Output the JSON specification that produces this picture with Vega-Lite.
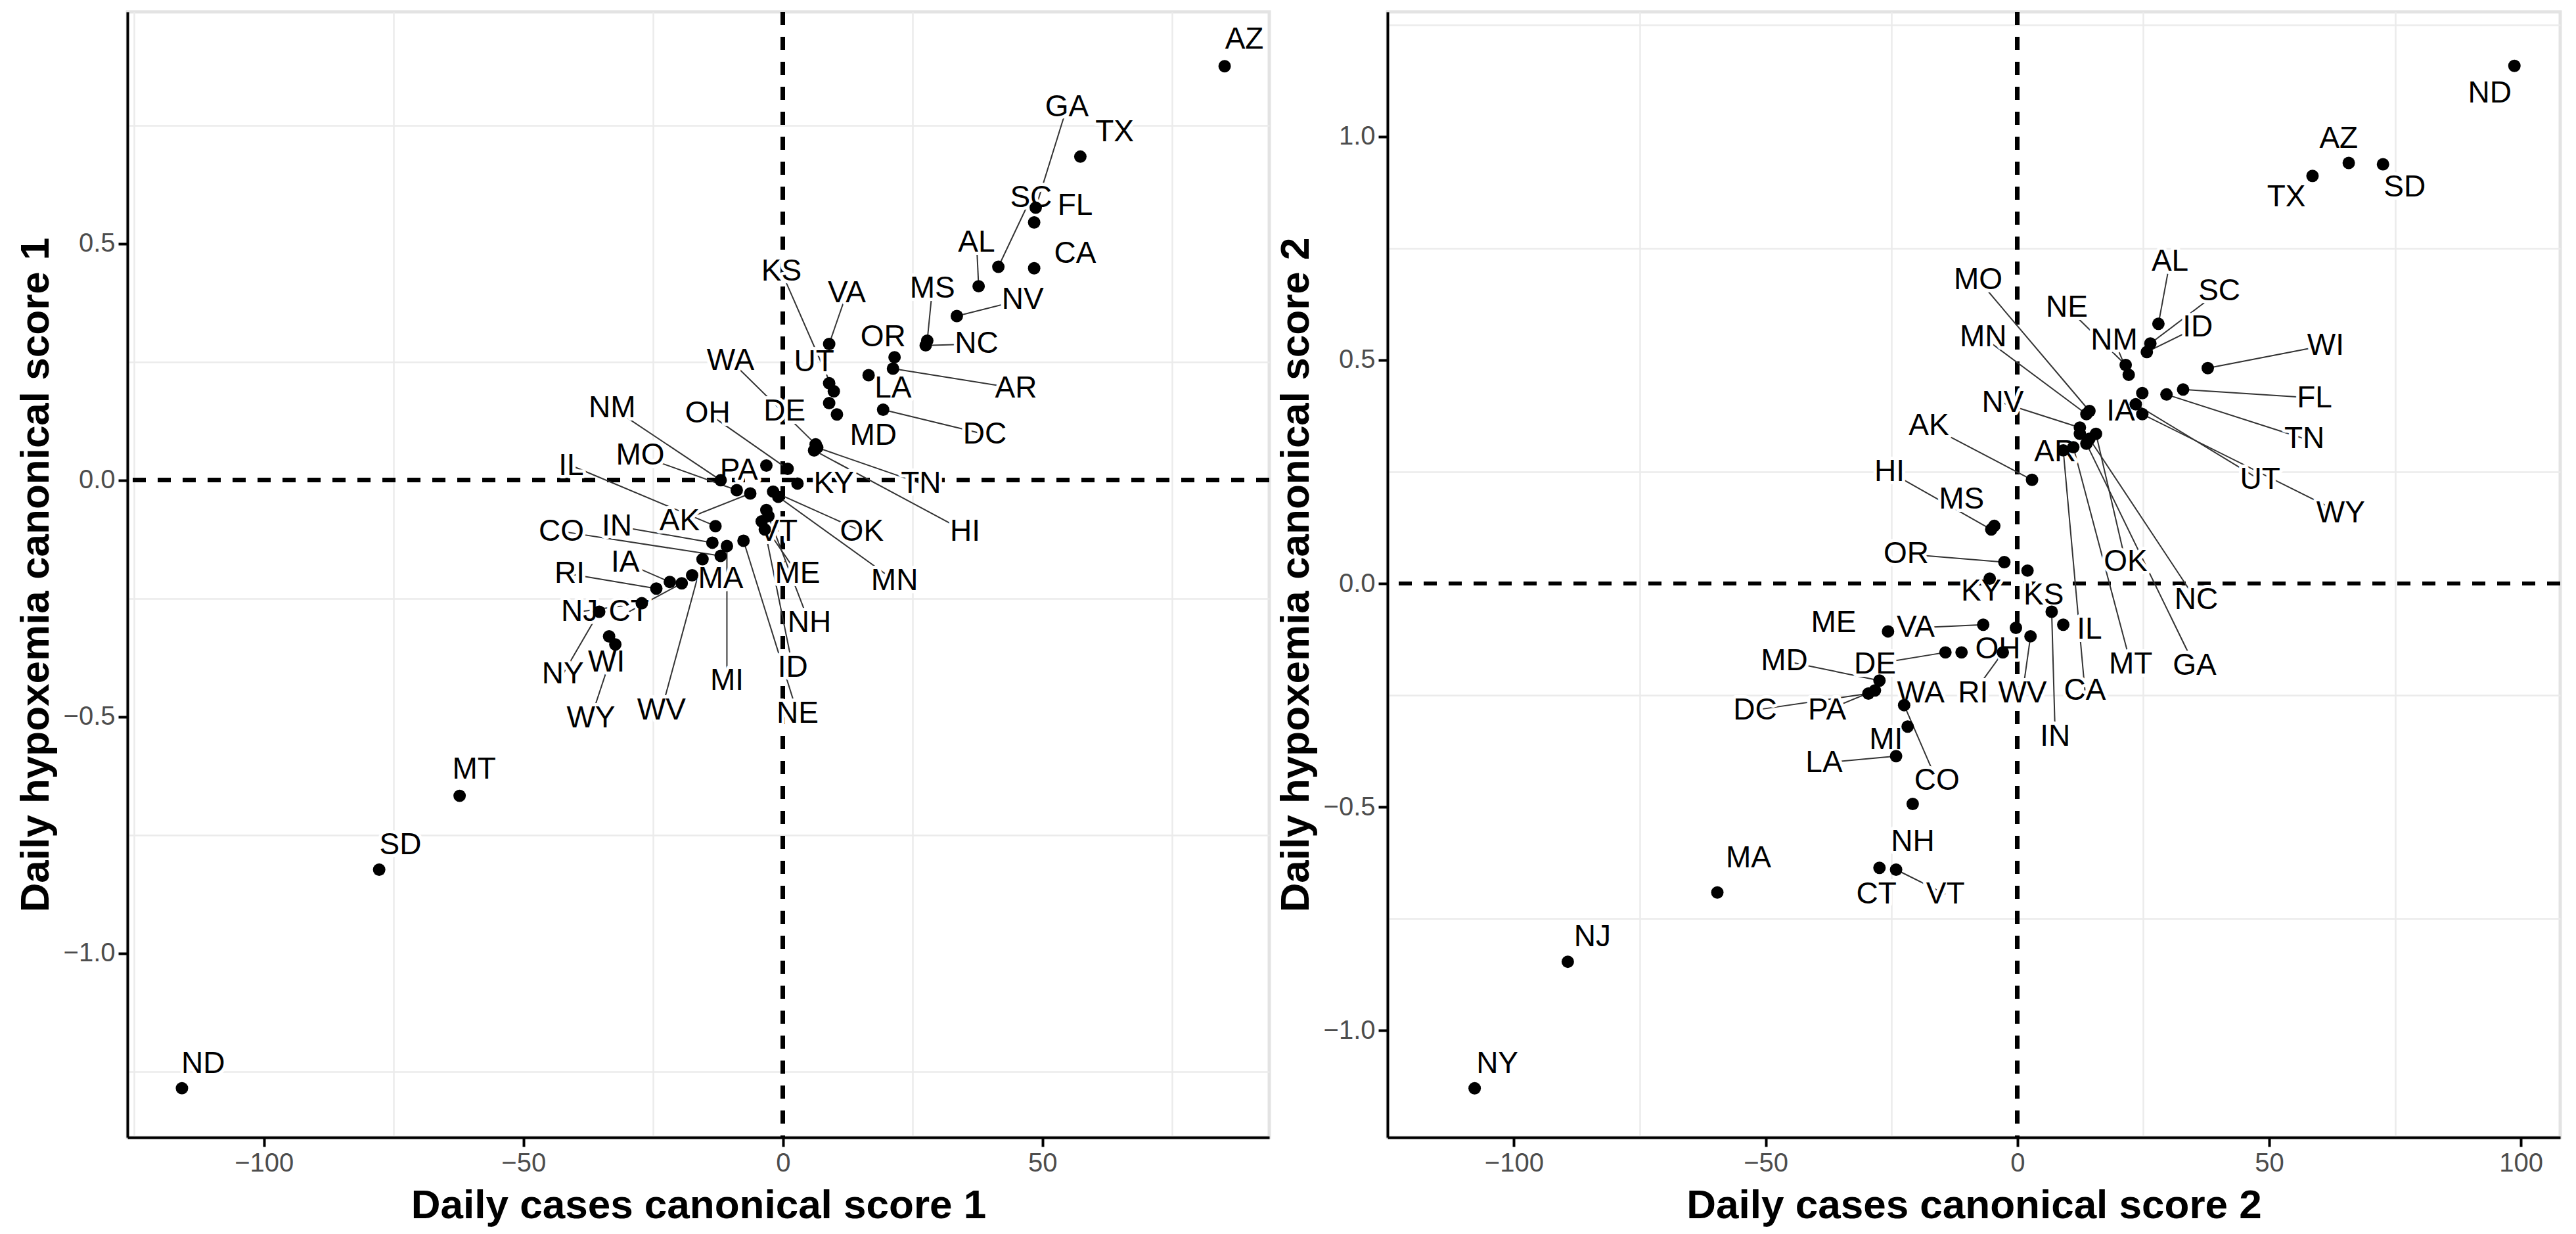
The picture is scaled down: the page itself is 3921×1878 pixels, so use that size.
{
"$schema": "https://vega.github.io/schema/vega-lite/v6.json",
"padding": {"left": 20, "top": 12, "right": 20, "bottom": 10},
"background": "white",
"datasets": {
"p1": [
{"s":"AZ","x":85.1,"y":0.875,"lx":88.9,"ly":0.931,"seg":0},
{"s":"TX","x":57.3,"y":0.684,"lx":63.9,"ly":0.736,"seg":0},
{"s":"GA","x":48.7,"y":0.576,"lx":54.7,"ly":0.788,"seg":1},
{"s":"FL","x":48.4,"y":0.545,"lx":56.3,"ly":0.58,"seg":0},
{"s":"CA","x":48.4,"y":0.448,"lx":56.3,"ly":0.479,"seg":0},
{"s":"SC","x":41.5,"y":0.451,"lx":47.8,"ly":0.597,"seg":1},
{"s":"AL","x":37.7,"y":0.41,"lx":37.3,"ly":0.503,"seg":1},
{"s":"NV","x":33.5,"y":0.347,"lx":46.2,"ly":0.382,"seg":1},
{"s":"MS","x":27.8,"y":0.295,"lx":28.8,"ly":0.406,"seg":1},
{"s":"NC","x":27.5,"y":0.285,"lx":37.3,"ly":0.288,"seg":1},
{"s":"OR","x":21.5,"y":0.26,"lx":19.3,"ly":0.302,"seg":0},
{"s":"VA","x":8.9,"y":0.288,"lx":12.3,"ly":0.396,"seg":1},
{"s":"AR","x":21.2,"y":0.236,"lx":44.9,"ly":0.194,"seg":1},
{"s":"LA","x":16.5,"y":0.222,"lx":21.2,"ly":0.194,"seg":0},
{"s":"UT","x":8.9,"y":0.205,"lx":6.0,"ly":0.25,"seg":0},
{"s":"KS","x":9.8,"y":0.188,"lx":-0.3,"ly":0.441,"seg":1},
{"s":"DC","x":19.3,"y":0.149,"lx":38.9,"ly":0.097,"seg":1},
{"s":"MD","x":10.4,"y":0.139,"lx":17.4,"ly":0.094,"seg":0},
{"s":"DE","x":8.9,"y":0.163,"lx":0.3,"ly":0.146,"seg":0},
{"s":"WA","x":6.3,"y":0.076,"lx":-10.1,"ly":0.253,"seg":1},
{"s":"TN","x":6.6,"y":0.069,"lx":26.6,"ly":-0.007,"seg":1},
{"s":"HI","x":6.0,"y":0.063,"lx":35.1,"ly":-0.108,"seg":1},
{"s":"OH","x":0.9,"y":0.024,"lx":-14.5,"ly":0.142,"seg":1},
{"s":"PA","x":-3.2,"y":0.031,"lx":-8.5,"ly":0.021,"seg":0},
{"s":"KY","x":2.8,"y":-0.007,"lx":9.8,"ly":-0.007,"seg":0},
{"s":"NM","x":-12.0,"y":0.0,"lx":-32.9,"ly":0.153,"seg":1},
{"s":"MO","x":-8.9,"y":-0.021,"lx":-27.5,"ly":0.052,"seg":1},
{"s":"AK","x":-6.3,"y":-0.028,"lx":-19.9,"ly":-0.087,"seg":1},
{"s":"IL","x":-13.0,"y":-0.097,"lx":-40.8,"ly":0.031,"seg":1},
{"s":"IN","x":-13.6,"y":-0.132,"lx":-32.0,"ly":-0.097,"seg":1},
{"s":"CO","x":-12.0,"y":-0.16,"lx":-42.7,"ly":-0.108,"seg":1},
{"s":"VT","x":-3.2,"y":-0.063,"lx":-0.9,"ly":-0.108,"seg":1},
{"s":"OK","x":-1.9,"y":-0.024,"lx":15.2,"ly":-0.108,"seg":1},
{"s":"MN","x":-0.9,"y":-0.035,"lx":21.5,"ly":-0.212,"seg":1},
{"s":"ME","x":-4.1,"y":-0.087,"lx":2.8,"ly":-0.198,"seg":1},
{"s":"NH","x":-2.8,"y":-0.076,"lx":5.1,"ly":-0.302,"seg":1},
{"s":"ID","x":-3.5,"y":-0.104,"lx":1.9,"ly":-0.396,"seg":1},
{"s":"NE","x":-7.6,"y":-0.128,"lx":2.8,"ly":-0.493,"seg":1},
{"s":"MI","x":-10.8,"y":-0.139,"lx":-10.8,"ly":-0.424,"seg":1},
{"s":"WV","x":-15.5,"y":-0.167,"lx":-23.4,"ly":-0.486,"seg":1},
{"s":"MA","x":-17.5,"y":-0.201,"lx":-12.0,"ly":-0.208,"seg":0},
{"s":"IA","x":-21.8,"y":-0.215,"lx":-30.4,"ly":-0.174,"seg":1},
{"s":"RI","x":-24.4,"y":-0.229,"lx":-41.1,"ly":-0.198,"seg":1},
{"s":"CT","x":-19.5,"y":-0.218,"lx":-29.7,"ly":-0.278,"seg":1},
{"s":"NJ","x":-27.2,"y":-0.26,"lx":-39.2,"ly":-0.278,"seg":1},
{"s":"NY","x":-35.4,"y":-0.278,"lx":-42.4,"ly":-0.41,"seg":1},
{"s":"WI","x":-33.5,"y":-0.33,"lx":-34.0,"ly":-0.385,"seg":0},
{"s":"WY","x":-32.3,"y":-0.347,"lx":-37.0,"ly":-0.503,"seg":1},
{"s":"MT","x":-62.3,"y":-0.667,"lx":-59.5,"ly":-0.611,"seg":0},
{"s":"SD","x":-77.8,"y":-0.823,"lx":-73.7,"ly":-0.771,"seg":0},
{"s":"ND","x":-115.8,"y":-1.285,"lx":-111.7,"ly":-1.233,"seg":0}
],
"p2": [
{"s":"ND","x":98.7,"y":1.158,"lx":93.8,"ly":1.096,"seg":0},
{"s":"AZ","x":65.8,"y":0.941,"lx":63.8,"ly":0.996,"seg":0},
{"s":"SD","x":72.6,"y":0.938,"lx":76.9,"ly":0.886,"seg":0},
{"s":"TX","x":58.6,"y":0.912,"lx":53.4,"ly":0.864,"seg":0},
{"s":"AL","x":28.0,"y":0.581,"lx":30.3,"ly":0.721,"seg":1},
{"s":"SC","x":26.4,"y":0.537,"lx":40.1,"ly":0.654,"seg":1},
{"s":"WI","x":37.8,"y":0.482,"lx":61.2,"ly":0.533,"seg":1},
{"s":"ID","x":25.7,"y":0.518,"lx":35.8,"ly":0.574,"seg":1},
{"s":"NE","x":21.5,"y":0.489,"lx":9.8,"ly":0.618,"seg":1},
{"s":"NM","x":22.1,"y":0.467,"lx":19.2,"ly":0.544,"seg":1},
{"s":"FL","x":32.9,"y":0.434,"lx":59.0,"ly":0.415,"seg":1},
{"s":"TN","x":29.6,"y":0.423,"lx":57.0,"ly":0.324,"seg":1},
{"s":"IA","x":24.8,"y":0.426,"lx":20.5,"ly":0.386,"seg":0},
{"s":"UT","x":23.5,"y":0.401,"lx":48.2,"ly":0.232,"seg":1},
{"s":"WY","x":24.8,"y":0.379,"lx":64.2,"ly":0.158,"seg":1},
{"s":"MO","x":14.3,"y":0.386,"lx":-7.8,"ly":0.68,"seg":1},
{"s":"MN","x":13.7,"y":0.379,"lx":-6.8,"ly":0.551,"seg":1},
{"s":"NV","x":12.4,"y":0.349,"lx":-2.9,"ly":0.404,"seg":1},
{"s":"AR","x":12.4,"y":0.335,"lx":7.5,"ly":0.294,"seg":0},
{"s":"OK","x":15.6,"y":0.335,"lx":21.5,"ly":0.048,"seg":1},
{"s":"NC","x":14.3,"y":0.324,"lx":35.5,"ly":-0.037,"seg":1},
{"s":"MT","x":11.1,"y":0.305,"lx":22.5,"ly":-0.18,"seg":1},
{"s":"GA","x":13.7,"y":0.313,"lx":35.2,"ly":-0.184,"seg":1},
{"s":"CA","x":9.1,"y":0.298,"lx":13.4,"ly":-0.239,"seg":1},
{"s":"AK","x":2.9,"y":0.232,"lx":-17.6,"ly":0.353,"seg":1},
{"s":"MS","x":-4.6,"y":0.129,"lx":-11.1,"ly":0.188,"seg":0},
{"s":"HI","x":-5.2,"y":0.121,"lx":-25.4,"ly":0.25,"seg":1},
{"s":"OR","x":-2.6,"y":0.048,"lx":-22.1,"ly":0.066,"seg":1},
{"s":"KY","x":-5.5,"y":0.011,"lx":-7.2,"ly":-0.018,"seg":0},
{"s":"KS","x":2.0,"y":0.029,"lx":5.2,"ly":-0.026,"seg":0},
{"s":"IL","x":9.1,"y":-0.092,"lx":14.3,"ly":-0.103,"seg":0},
{"s":"IN","x":6.8,"y":-0.063,"lx":7.5,"ly":-0.342,"seg":1},
{"s":"WV","x":2.6,"y":-0.118,"lx":1.0,"ly":-0.246,"seg":1},
{"s":"OH","x":-0.3,"y":-0.099,"lx":-3.9,"ly":-0.147,"seg":0},
{"s":"RI","x":-2.9,"y":-0.154,"lx":-8.8,"ly":-0.246,"seg":1},
{"s":"ME","x":-25.7,"y":-0.107,"lx":-36.5,"ly":-0.088,"seg":0},
{"s":"VA","x":-6.8,"y":-0.092,"lx":-20.2,"ly":-0.099,"seg":1},
{"s":"DE","x":-14.3,"y":-0.154,"lx":-28.3,"ly":-0.18,"seg":1},
{"s":"WA","x":-11.1,"y":-0.154,"lx":-19.2,"ly":-0.246,"seg":0},
{"s":"MD","x":-27.4,"y":-0.217,"lx":-46.3,"ly":-0.173,"seg":1},
{"s":"DC","x":-29.6,"y":-0.246,"lx":-52.1,"ly":-0.283,"seg":1},
{"s":"PA","x":-28.3,"y":-0.239,"lx":-37.8,"ly":-0.283,"seg":1},
{"s":"CO","x":-22.5,"y":-0.272,"lx":-16.0,"ly":-0.441,"seg":1},
{"s":"MI","x":-21.8,"y":-0.32,"lx":-26.1,"ly":-0.349,"seg":0},
{"s":"LA","x":-24.1,"y":-0.386,"lx":-38.4,"ly":-0.401,"seg":1},
{"s":"NH","x":-20.8,"y":-0.493,"lx":-20.8,"ly":-0.577,"seg":0},
{"s":"CT","x":-27.4,"y":-0.636,"lx":-28.0,"ly":-0.695,"seg":0},
{"s":"VT","x":-24.1,"y":-0.64,"lx":-14.3,"ly":-0.695,"seg":1},
{"s":"MA","x":-59.6,"y":-0.691,"lx":-53.4,"ly":-0.614,"seg":0},
{"s":"NJ","x":-89.3,"y":-0.846,"lx":-84.4,"ly":-0.79,"seg":0},
{"s":"NY","x":-107.8,"y":-1.129,"lx":-103.3,"ly":-1.074,"seg":0}
]
},
"hconcat": [
{
"width": 1738, "height": 1713,
"data": {"name": "p1"},
"resolve": {"axis": {"x": "independent", "y": "independent"}},
"layer": [
{"mark": {"type": "point", "opacity": 0},
 "encoding": {
  "x": {"field": "x", "type": "quantitative", "scale": {"domain": [-126.3, 93.7], "nice": false, "zero": false},
        "axis": {"orient": "top", "values": [-125, -75, -25, 25, 75], "grid": true, "gridWidth": 2.5, "labels": false, "ticks": false, "domain": false, "title": null}},
  "y": {"field": "y", "type": "quantitative", "scale": {"domain": [-1.389, 0.99], "nice": false, "zero": false},
        "axis": {"orient": "right", "values": [-1.25, -0.75, -0.25, 0.25, 0.75], "grid": true, "gridWidth": 2.5, "labels": false, "ticks": false, "domain": false, "title": null}}
 }},
{"mark": {"type": "point", "opacity": 0},
 "encoding": {
  "x": {"field": "x", "type": "quantitative", "axis": {"orient": "bottom", "values": [-100, -50, 0, 50], "format": "d", "title": "Daily cases canonical score 1"}},
  "y": {"field": "y", "type": "quantitative", "axis": {"orient": "left", "values": [-1.0, -0.5, 0.0, 0.5], "format": ".1f", "title": "Daily hypoxemia canonical score 1"}}
 }},
{"mark": {"type": "rule", "color": "black", "strokeWidth": 6, "strokeDash": [20, 18]},
 "encoding": {"y": {"datum": 0, "type": "quantitative", "axis": null}}},
{"mark": {"type": "rule", "color": "black", "strokeWidth": 6, "strokeDash": [20, 18]},
 "encoding": {"x": {"datum": 0, "type": "quantitative", "axis": null}}},
{"transform": [{"filter": "datum.seg == 1"}],
 "mark": {"type": "rule", "color": "#333333", "strokeWidth": 2},
 "encoding": {
  "x": {"field": "x", "type": "quantitative", "axis": null},
  "y": {"field": "y", "type": "quantitative", "axis": null},
  "x2": {"field": "lx"}, "y2": {"field": "ly"}
 }},
{"mark": {"type": "text", "fontSize": 46, "font": "Liberation Sans", "color": "white", "stroke": "white", "strokeWidth": 10, "strokeJoin": "round", "align": "center", "baseline": "middle"},
 "encoding": {
  "x": {"field": "lx", "type": "quantitative", "axis": null},
  "y": {"field": "ly", "type": "quantitative", "axis": null},
  "text": {"field": "s"}
 }},
{"mark": {"type": "circle", "size": 360, "color": "black", "opacity": 1},
 "encoding": {
  "x": {"field": "x", "type": "quantitative", "axis": null},
  "y": {"field": "y", "type": "quantitative", "axis": null}
 }},
{"mark": {"type": "text", "fontSize": 46, "font": "Liberation Sans", "color": "black", "align": "center", "baseline": "middle"},
 "encoding": {
  "x": {"field": "lx", "type": "quantitative", "axis": null},
  "y": {"field": "ly", "type": "quantitative", "axis": null},
  "text": {"field": "s"}
 }}
]
},
{
"width": 1785, "height": 1713,
"data": {"name": "p2"},
"resolve": {"axis": {"x": "independent", "y": "independent"}},
"layer": [
{"mark": {"type": "point", "opacity": 0},
 "encoding": {
  "x": {"field": "x", "type": "quantitative", "scale": {"domain": [-125.1, 107.8], "nice": false, "zero": false},
        "axis": {"orient": "top", "values": [-75, -25, 25, 75], "grid": true, "gridWidth": 2.5, "labels": false, "ticks": false, "domain": false, "title": null}},
  "y": {"field": "y", "type": "quantitative", "scale": {"domain": [-1.239, 1.279], "nice": false, "zero": false},
        "axis": {"orient": "right", "values": [-0.75, -0.25, 0.25, 0.75, 1.25], "grid": true, "gridWidth": 2.5, "labels": false, "ticks": false, "domain": false, "title": null}}
 }},
{"mark": {"type": "point", "opacity": 0},
 "encoding": {
  "x": {"field": "x", "type": "quantitative", "axis": {"orient": "bottom", "values": [-100, -50, 0, 50, 100], "format": "d", "title": "Daily cases canonical score 2"}},
  "y": {"field": "y", "type": "quantitative", "axis": {"orient": "left", "values": [-1.0, -0.5, 0.0, 0.5, 1.0], "format": ".1f", "title": "Daily hypoxemia canonical score 2"}}
 }},
{"mark": {"type": "rule", "color": "black", "strokeWidth": 6, "strokeDash": [20, 18]},
 "encoding": {"y": {"datum": 0, "type": "quantitative", "axis": null}}},
{"mark": {"type": "rule", "color": "black", "strokeWidth": 6, "strokeDash": [20, 18]},
 "encoding": {"x": {"datum": 0, "type": "quantitative", "axis": null}}},
{"transform": [{"filter": "datum.seg == 1"}],
 "mark": {"type": "rule", "color": "#333333", "strokeWidth": 2},
 "encoding": {
  "x": {"field": "x", "type": "quantitative", "axis": null},
  "y": {"field": "y", "type": "quantitative", "axis": null},
  "x2": {"field": "lx"}, "y2": {"field": "ly"}
 }},
{"mark": {"type": "text", "fontSize": 46, "font": "Liberation Sans", "color": "white", "stroke": "white", "strokeWidth": 10, "strokeJoin": "round", "align": "center", "baseline": "middle"},
 "encoding": {
  "x": {"field": "lx", "type": "quantitative", "axis": null},
  "y": {"field": "ly", "type": "quantitative", "axis": null},
  "text": {"field": "s"}
 }},
{"mark": {"type": "circle", "size": 360, "color": "black", "opacity": 1},
 "encoding": {
  "x": {"field": "x", "type": "quantitative", "axis": null},
  "y": {"field": "y", "type": "quantitative", "axis": null}
 }},
{"mark": {"type": "text", "fontSize": 46, "font": "Liberation Sans", "color": "black", "align": "center", "baseline": "middle"},
 "encoding": {
  "x": {"field": "lx", "type": "quantitative", "axis": null},
  "y": {"field": "ly", "type": "quantitative", "axis": null},
  "text": {"field": "s"}
 }}
]
}
],
"config": {
 "font": "Liberation Sans",
 "concat": {"spacing": 0},
 "view": {"stroke": "#E3E3E3", "strokeWidth": 5},
 "axis": {
  "labelFont": "Liberation Sans", "labelFontSize": 40, "labelColor": "#4D4D4D",
  "titleFont": "Liberation Sans", "titleFontSize": 62, "titleFontWeight": "bold", "titleColor": "black",
  "tickColor": "black", "tickWidth": 4, "tickSize": 14,
  "domainColor": "black", "domainWidth": 4,
  "gridColor": "#EBEBEB", "gridWidth": 5,
  "labelPadding": 5
 },
 "axisLeft": {"titlePadding": 10},
 "axisBottom": {"titlePadding": 14}
}
}
